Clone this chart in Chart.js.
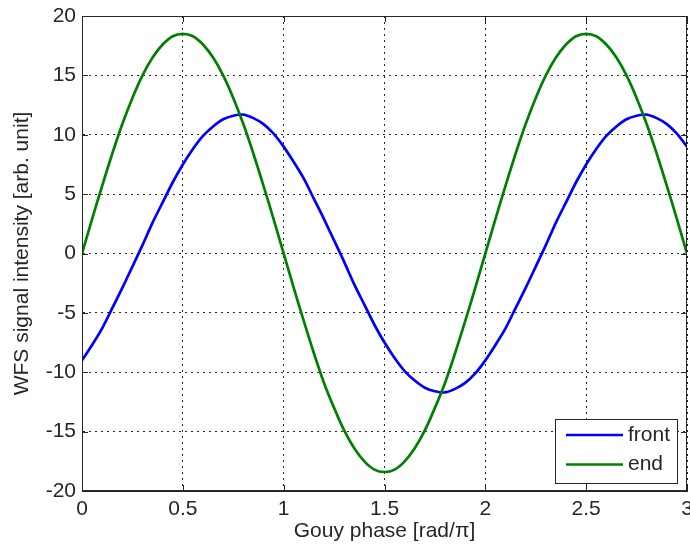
<!DOCTYPE html>
<html>
<head>
<meta charset="utf-8">
<script src="https://cdn.jsdelivr.net/npm/chart.js"></script>
<style>
  html, body { margin: 0; padding: 0; background: #fff; }
</style>
</head>
<body>
<canvas id="waveChart" width="690" height="548"></canvas>
<script>
// Gouy phase in units of pi
const phase = [0, 0.05, 0.1, 0.15, 0.2, 0.25, 0.3, 0.35, 0.4, 0.45, 0.5, 0.55, 0.6, 0.65, 0.7, 0.75, 0.8, 0.85, 0.9, 0.95,
  1, 1.05, 1.1, 1.15, 1.2, 1.25, 1.3, 1.35, 1.4, 1.45, 1.5, 1.55, 1.6, 1.65, 1.7, 1.75, 1.8, 1.85, 1.9, 1.95,
  2, 2.05, 2.1, 2.15, 2.2, 2.25, 2.3, 2.35, 2.4, 2.45, 2.5, 2.55, 2.6, 2.65, 2.7, 2.75, 2.8, 2.85, 2.9, 2.95, 3];

const front = [-9.0, -7.7, -6.3, -4.6, -2.9, -1.1, 0.7, 2.6, 4.3, 6.0, 7.5, 8.8, 9.9, 10.7, 11.3, 11.6, 11.7, 11.4, 10.9, 10.1,
  9.0, 7.7, 6.3, 4.6, 2.9, 1.1, -0.7, -2.6, -4.3, -6.0, -7.5, -8.8, -9.9, -10.7, -11.3, -11.6, -11.7, -11.4, -10.9, -10.1,
  -9.0, -7.7, -6.3, -4.6, -2.9, -1.1, 0.7, 2.6, 4.3, 6.0, 7.5, 8.8, 9.9, 10.7, 11.3, 11.6, 11.7, 11.4, 10.9, 10.1, 9.0];

const end = [0, 2.9, 5.7, 8.4, 10.9, 13.1, 15.0, 16.5, 17.6, 18.3, 18.5, 18.3, 17.6, 16.5, 15.0, 13.1, 10.9, 8.4, 5.7, 2.9,
  0, -2.9, -5.7, -8.4, -10.9, -13.0, -14.9, -16.4, -17.5, -18.2, -18.4, -18.2, -17.5, -16.4, -14.9, -13.0, -10.9, -8.4, -5.7, -2.9,
  0, 2.9, 5.7, 8.4, 10.9, 13.1, 15.0, 16.5, 17.6, 18.3, 18.5, 18.3, 17.6, 16.5, 15.0, 13.1, 10.9, 8.4, 5.7, 2.9, 0];

const xTicks = [0, 0.5, 1, 1.5, 2, 2.5, 3];
const yTicks = [-20, -15, -10, -5, 0, 5, 10, 15, 20];
const seriesNames = ['front', 'end'];
const seriesColors = ['#0000ff', '#008000'];

const FONT = 'Liberation Sans, Arial, sans-serif';
const INK = '#262626';

function toPoints(ys) {
  return phase.map((x, i) => ({ x: x, y: ys[i] }));
}

// box, inward ticks and legend like the matlab figure
const framePlugin = {
  id: 'frame',
  afterDraw(chart) {
    const ctx = chart.ctx;
    const a = chart.chartArea;
    const sx = chart.scales.x;
    const sy = chart.scales.y;
    ctx.save();
    ctx.strokeStyle = INK;
    ctx.lineWidth = 1;
    ctx.setLineDash([]);
    ctx.strokeRect(a.left + 0.5, a.top + 0.5, a.right - a.left - 1, a.bottom - a.top - 1);

    const tl = 6;
    ctx.beginPath();
    xTicks.forEach(t => {
      const px = Math.round(sx.getPixelForValue(t)) + 0.5;
      ctx.moveTo(px, a.bottom); ctx.lineTo(px, a.bottom - tl);
      ctx.moveTo(px, a.top); ctx.lineTo(px, a.top + tl);
    });
    yTicks.forEach(t => {
      const py = Math.round(sy.getPixelForValue(t)) + 0.5;
      ctx.moveTo(a.left, py); ctx.lineTo(a.left + tl, py);
      ctx.moveTo(a.right, py); ctx.lineTo(a.right - tl, py);
    });
    ctx.stroke();

    // legend
    const lw = 122, lh = 64;
    const lx = a.right - 10 - lw;
    const ly = a.bottom - 8 - lh;
    ctx.fillStyle = '#fff';
    ctx.fillRect(lx, ly, lw, lh);
    ctx.strokeRect(lx + 0.5, ly + 0.5, lw, lh);
    ctx.font = '21px ' + FONT;
    ctx.textBaseline = 'middle';
    ctx.textAlign = 'left';
    seriesNames.forEach((name, i) => {
      const yy = ly + 16 + i * 29.5;
      ctx.strokeStyle = seriesColors[i];
      ctx.lineWidth = 2.5;
      ctx.beginPath();
      ctx.moveTo(lx + 11, yy);
      ctx.lineTo(lx + 68, yy);
      ctx.stroke();
      ctx.fillStyle = INK;
      ctx.fillText(name, lx + 73, yy);
    });
    ctx.restore();
  }
};

const chart = new Chart(document.getElementById('waveChart').getContext('2d'), {
  type: 'line',
  data: {
    datasets: [
      {
        label: seriesNames[0],
        data: toPoints(front),
        borderColor: seriesColors[0],
        borderWidth: 2.7,
        pointRadius: 0,
        tension: 0.3,
        order: 1
      },
      {
        label: seriesNames[1],
        data: toPoints(end),
        borderColor: seriesColors[1],
        borderWidth: 2.7,
        pointRadius: 0,
        tension: 0.3,
        order: 0
      }
    ]
  },
  options: {
    responsive: false,
    animation: false,
    layout: { padding: { top: 16, right: 3, left: 0, bottom: 0 } },
    plugins: {
      legend: { display: false },
      tooltip: { enabled: false }
    },
    scales: {
      x: {
        type: 'linear',
        min: 0,
        max: 3,
        afterBuildTicks: s => { s.ticks = xTicks.map(v => ({ value: v })); },
        afterFit: s => { s.height = 57; s.paddingLeft = 0; s.paddingRight = 0; },
        grid: { color: INK, lineWidth: 1, drawTicks: false },
        border: { display: true, color: INK, dash: [2, 4] },
        ticks: { color: INK, font: { family: FONT, size: 21 }, padding: 6, maxRotation: 0, callback: v => String(v) },
        title: {
          display: true,
          text: 'Gouy phase [rad/\u03c0]',
          color: INK,
          font: { family: FONT, size: 21 },
          padding: { top: 0, bottom: 4 }
        }
      },
      y: {
        min: -20,
        max: 20,
        afterBuildTicks: s => { s.ticks = yTicks.map(v => ({ value: v })); },
        afterFit: s => { s.width = 82; s.paddingTop = 0; s.paddingBottom = 0; },
        grid: { color: INK, lineWidth: 1, drawTicks: false },
        border: { display: true, color: INK, dash: [2, 4] },
        ticks: { color: INK, font: { family: FONT, size: 21 }, padding: 6, callback: v => String(v) },
        title: {
          display: true,
          text: 'WFS signal intensity [arb. unit]',
          color: INK,
          font: { family: FONT, size: 21 },
          padding: { top: 10, bottom: 0 }
        }
      }
    }
  },
  plugins: [framePlugin]
});
</script>
</body>
</html>
